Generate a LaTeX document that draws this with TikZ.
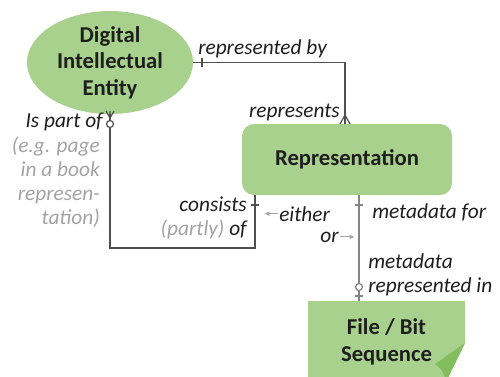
\documentclass[tikz,border=0pt]{standalone}
\usepackage{fontspec}
\setmainfont{Carlito}
\usetikzlibrary{shapes.geometric,arrows.meta}

\definecolor{boxgreen}{HTML}{A9D18E}
\definecolor{foldgreen}{HTML}{82BE5E}
\definecolor{linegray}{HTML}{4F4F4F}
\definecolor{metagray}{HTML}{858585}
\definecolor{notegray}{HTML}{A3A3A3}
\definecolor{textdark}{HTML}{1E1E1E}

\newcommand{\titlefont}{\fontsize{17}{20}\selectfont\bfseries}
\newcommand{\rolefont}{\fontsize{16}{18}\selectfont\itshape}

\tikzset{
  entity/.style={ellipse, fill=boxgreen, minimum width=124.5pt, minimum height=74.25pt,
    inner sep=0pt, font=\titlefont, text=textdark, align=center},
  repbox/.style={rectangle, rounded corners=9pt, fill=boxgreen, minimum width=157.5pt,
    minimum height=53.25pt, font=\titlefont, text=textdark},
  filebox/.style={rectangle, minimum width=117.75pt, minimum height=60.75pt,
    font=\titlefont, text=textdark, align=center},
  role/.style={inner sep=0.75pt, font=\rolefont, text=textdark},
  note/.style={inner sep=0.75pt, font=\rolefont, text=notegray},
  conn/.style={draw=linegray, line width=0.9pt},
  metaconn/.style={draw=metagray, line width=0.9pt},
  hint/.style={draw=notegray, line width=0.8pt, -{Latex[length=4pt,width=3.5pt]}}
}

\begin{document}
\begin{tikzpicture}[x=0.75pt,y=0.75pt,yscale=-1,xscale=1]
\useasboundingbox (0,0) rectangle (500,376);
\clip (0,0) rectangle (500,376);

%Shape: File sheet with folded corner
\fill[boxgreen] (308,301) -- (465,301) -- (465,343) -- (446,382) -- (308,382) -- cycle ;
\fill[foldgreen] (465,343) -- (446,382) .. controls (444,372) and (440,367) .. (435,364) -- cycle ;

% Entity nodes
\node[entity] (entity) at (110,62.5) {Digital\\Intellectual\\Entity};
\node[repbox] (repr) at (347,159.5) {Representation};
\node[filebox] (file) at (386.5,341.5) {File / Bit\\Sequence};

\coordinate (loop) at (255,248);
\coordinate (metax) at (359,0);

%Straight Lines: represented by / represents
\draw[conn] (entity.east) -| ([xshift=-1.5pt]repr.north);
\draw[conn] (202,58) -- (202,67) ;
\draw[conn] (340,124) -- (345,115) -- (350,124) (345,115) -- (345,124) ;

%Straight Lines: is part of / consists of
\draw[conn] (entity.south) |- (loop) -- (loop |- repr.south);
\draw[conn] (106,111) -- (110,118) -- (114,111) (110,111) -- (110,118) ;
\draw[conn, fill=white] (110,124) circle (3.5) ;
\draw[conn] (251,205) -- (259,205) ;

%Straight Lines: metadata for / metadata represented in
\draw[metaconn] (repr.south -| metax) -- (file.north -| metax);
\draw[metaconn] (355,205) -- (363,205) ;
\draw[metaconn, fill=white] (359,287) circle (3.5) ;
\draw[metaconn] (355,296) -- (363,296) ;

% Text Node
\node[role, anchor=base west] (repby) at (197,54) {represented by};
\node[role, anchor=base east] (reps) at (341,117) {represents};
\node[role, anchor=base east] (partof) at (104,127) {Is part of};
\node[note, anchor=east, align=right] (example) at (101,182) {(e.g. page\\in a book\\represen-\\tation)};
\node[role, anchor=east, align=right] (consists) at (248,218) {consists\\{\color{notegray}(partly)} of};
\node[role, anchor=base west] (either) at (278,221) {either};
\node[role, anchor=base east] (or) at (340,242) {or};
\node[role, anchor=base west] (metafor) at (371,218) {metadata for};
\node[role, anchor=base west, align=left] (metain) at (367,292) {metadata\\represented in};

% either / or hints
\draw[hint] (either.west) -- ++(-14,0);
\draw[hint] (or.east) -- ++(15,0);

\end{tikzpicture}
\end{document}
